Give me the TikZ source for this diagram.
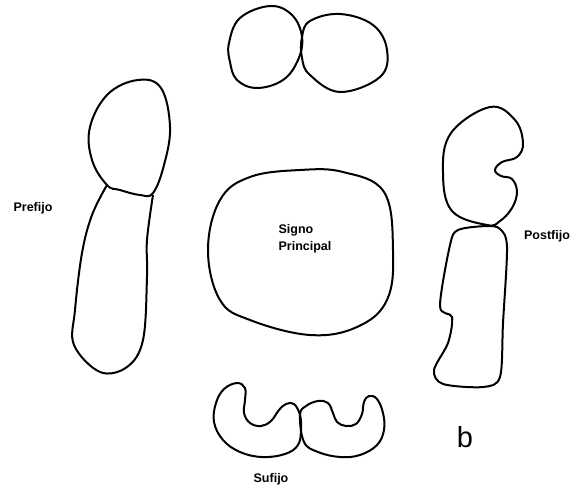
\documentclass[tikz,border=0pt]{standalone}
\usepackage{fontspec}
\setmainfont{Liberation Sans}
\usepackage{tikz}
\usetikzlibrary{positioning}

\tikzset{
  contorno/.style={draw=black, line width=2pt, line join=round, smooth cycle, tension=0.65},
  etiqueta/.style={font=\fontsize{12.5}{17}\selectfont\bfseries, inner sep=0pt}
}

\begin{document}
\begin{tikzpicture}[x=1pt, y=-1pt]

\useasboundingbox (0,0) rectangle (573,493);

% signos de arriba
\draw[line width=2pt] plot[contorno] coordinates {(229,43) (240,18) (270,6) (292,15) (302,37) (298,60) (283,80) (257,88) (237,80) (230,62)};
\draw[line width=2pt] plot[contorno] coordinates {(302,37) (310,21) (340,14) (373,25) (387,50) (380,77) (340,92) (310,75) (302,58)};

% prefijo
\draw[line width=2pt] plot[contorno] coordinates {(107,185) (92,160) (90,127) (108,94) (138,80) (161,88) (170,127) (164,165) (153,193) (140,195) (120,190)};
\draw[line width=2pt, line join=round] plot[smooth, tension=0.6] coordinates {(107,185) (92,215) (82,253) (75,310) (74,345) (100,372) (127,367) (143,340) (147,277) (147,240) (153,195)};
\node[etiqueta] (prefijo) at (33,208) {Prefijo};

% signo principal
\draw[line width=2pt] plot[contorno] coordinates {(300,170) (343,172) (384,192) (393,250) (387,300) (357,327) (310,335) (250,320) (220,300) (208,250) (220,200) (250,177)};
\node[etiqueta, align=left] (principal) at (305,239) {Signo\\Principal};

% postfijo
\draw[line width=2pt] plot[contorno] coordinates {(487,225) (452,211) (443,173) (451,133) (490,107) (515,120) (523,143) (517,157) (502,162) (495,170) (501,176) (512,179) (517,192) (512,208) (500,221)};
\draw[line width=2pt] plot[smooth cycle, tension=0.5] coordinates {(487,226) (458,230) (450,245) (440,306) (452,317) (448,343) (434,370) (443,384) (483,387) (500,377) (503,323) (507,247) (500,229)};
\node[etiqueta] (postfijo) at (547,236) {Postfijo};

% sufijo
\draw[line width=2pt] plot[contorno] coordinates {(237,383) (224,389) (216,403) (214,422) (223,440) (240,452) (262,457) (285,454) (298,445) (301,430) (300,415) (294,404) (286,404) (279,410) (271,421) (261,426) (250,423) (244,413) (245,400) (245,388)};
\draw[line width=2pt] plot[contorno] coordinates {(300,415) (306,406) (318,401) (328,403) (333,413) (337,422) (346,426) (356,424) (362,414) (364,402) (369,396) (377,399) (383,413) (384,430) (377,445) (360,455) (340,457) (318,452) (304,442)};
\node[etiqueta] (sufijo) at (271,479) {Sufijo};

\node[font=\fontsize{29}{30}\selectfont, inner sep=0pt, anchor=base] (letra) at (465,447) {b};

\end{tikzpicture}
\end{document}
